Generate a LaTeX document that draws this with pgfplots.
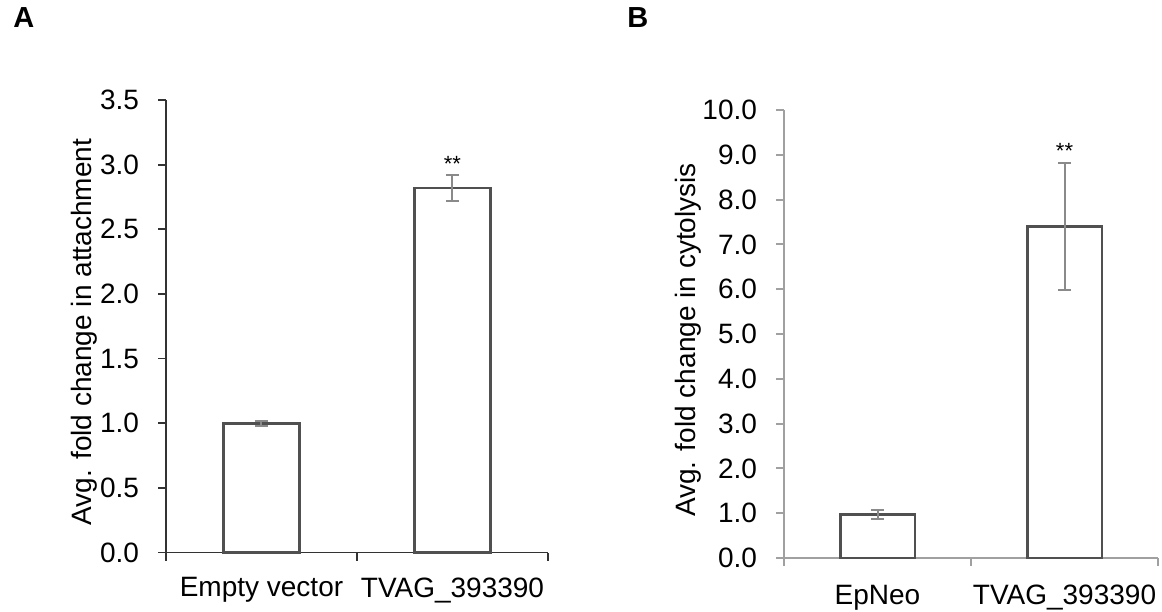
\documentclass[border=0pt]{standalone}
\usepackage{fontspec}
\setmainfont{Liberation Sans}
\usepackage{pgfplots}
\pgfplotsset{compat=1.18}

\definecolor{barline}{HTML}{505050}
\definecolor{errgray}{HTML}{8A8A8A}
\definecolor{axisA}{HTML}{333333}
\definecolor{axisB}{HTML}{A0A0A0}

\newcommand{\lbl}{\fontsize{14}{16.5}\selectfont}

\pgfplotsset{
  panel/.style={
    scale only axis,
    anchor=south west,
    axis x line*=bottom,
    axis y line*=left,
    xmin=-0.5, xmax=1.5,
    xtick={0,1},
    minor xtick={-0.5,0.5,1.5},
    major x tick style={draw=none},
    tick align=outside,
    major tick length=4pt,
    minor tick length=4pt,
    ymin=0,
    ticklabel style={font=\lbl},
    label style={font=\lbl},
    /pgf/number format/assume math mode=true,
    yticklabel style={xshift=-6pt,/pgf/number format/fixed,/pgf/number format/fixed zerofill,/pgf/number format/precision=1},
    clip=false,
  },
  errbar/.style={
    ybar, bar width=0.4, fill=white, draw=barline, line width=1.4pt,
    error bars/.cd, y dir=both, y explicit,
    error bar style={errgray, line width=1pt},
    error mark options={rotate=90, errgray, line width=1pt, mark size=3.25pt},
  },
  stars/.style={
    only marks, mark=none,
    nodes near coords, point meta=explicit symbolic,
    every node near coord/.append style={font=\fontsize{11}{13}\selectfont, anchor=south, inner sep=1.5pt},
  },
}

\begin{document}
\begin{tikzpicture}
\path[use as bounding box] (0,0) rectangle (581pt,305.5pt);

\node[font=\fontsize{14.5}{17}\selectfont\bfseries, anchor=north west, inner sep=0pt] at (6.5pt,302pt) {A};
\node[font=\fontsize{14.5}{17}\selectfont\bfseries, anchor=north west, inner sep=0pt] at (313.5pt,302pt) {B};

% Panel A: attachment
\begin{axis}[panel,
  at={(83pt,29.25pt)}, width=191pt, height=226.25pt,
  ymax=3.5, ytick={0,0.5,...,3.5},
  axis line style={axisA, line width=0.9pt},
  tick style={axisA, line width=0.9pt},
  xticklabels={Empty vector, TVAG\_393390},
  xticklabel style={yshift=-5pt},
  ylabel={Avg. fold change in attachment},
  ylabel style={at={(axis description cs:0,0.5)}, anchor=base, yshift=37pt, xshift=-3pt},
]
\addplot[errbar] coordinates {(0,1.00) +- (0,0.02) (1,2.82) +- (0,0.10)};
\addplot[stars] coordinates {(1,2.92)[**]};
\end{axis}

% Panel B: cytolysis
\begin{axis}[panel,
  at={(392pt,26.5pt)}, width=187pt, height=224pt,
  ymax=10, ytick={0,1,...,10},
  axis line style={axisB, line width=1pt},
  tick style={axisB, line width=1pt},
  xticklabels={EpNeo, TVAG\_393390},
  xticklabel style={yshift=-6pt},
  ylabel={Avg. fold change in cytolysis},
  ylabel style={at={(axis description cs:0,0.5)}, anchor=base, yshift=44.5pt, xshift=-3pt},
]
\addplot[errbar] coordinates {(0,0.97) +- (0,0.10) (1,7.40) +- (0,1.42)};
\addplot[stars] coordinates {(1,8.84)[**]};
\end{axis}
\end{tikzpicture}
\end{document}
